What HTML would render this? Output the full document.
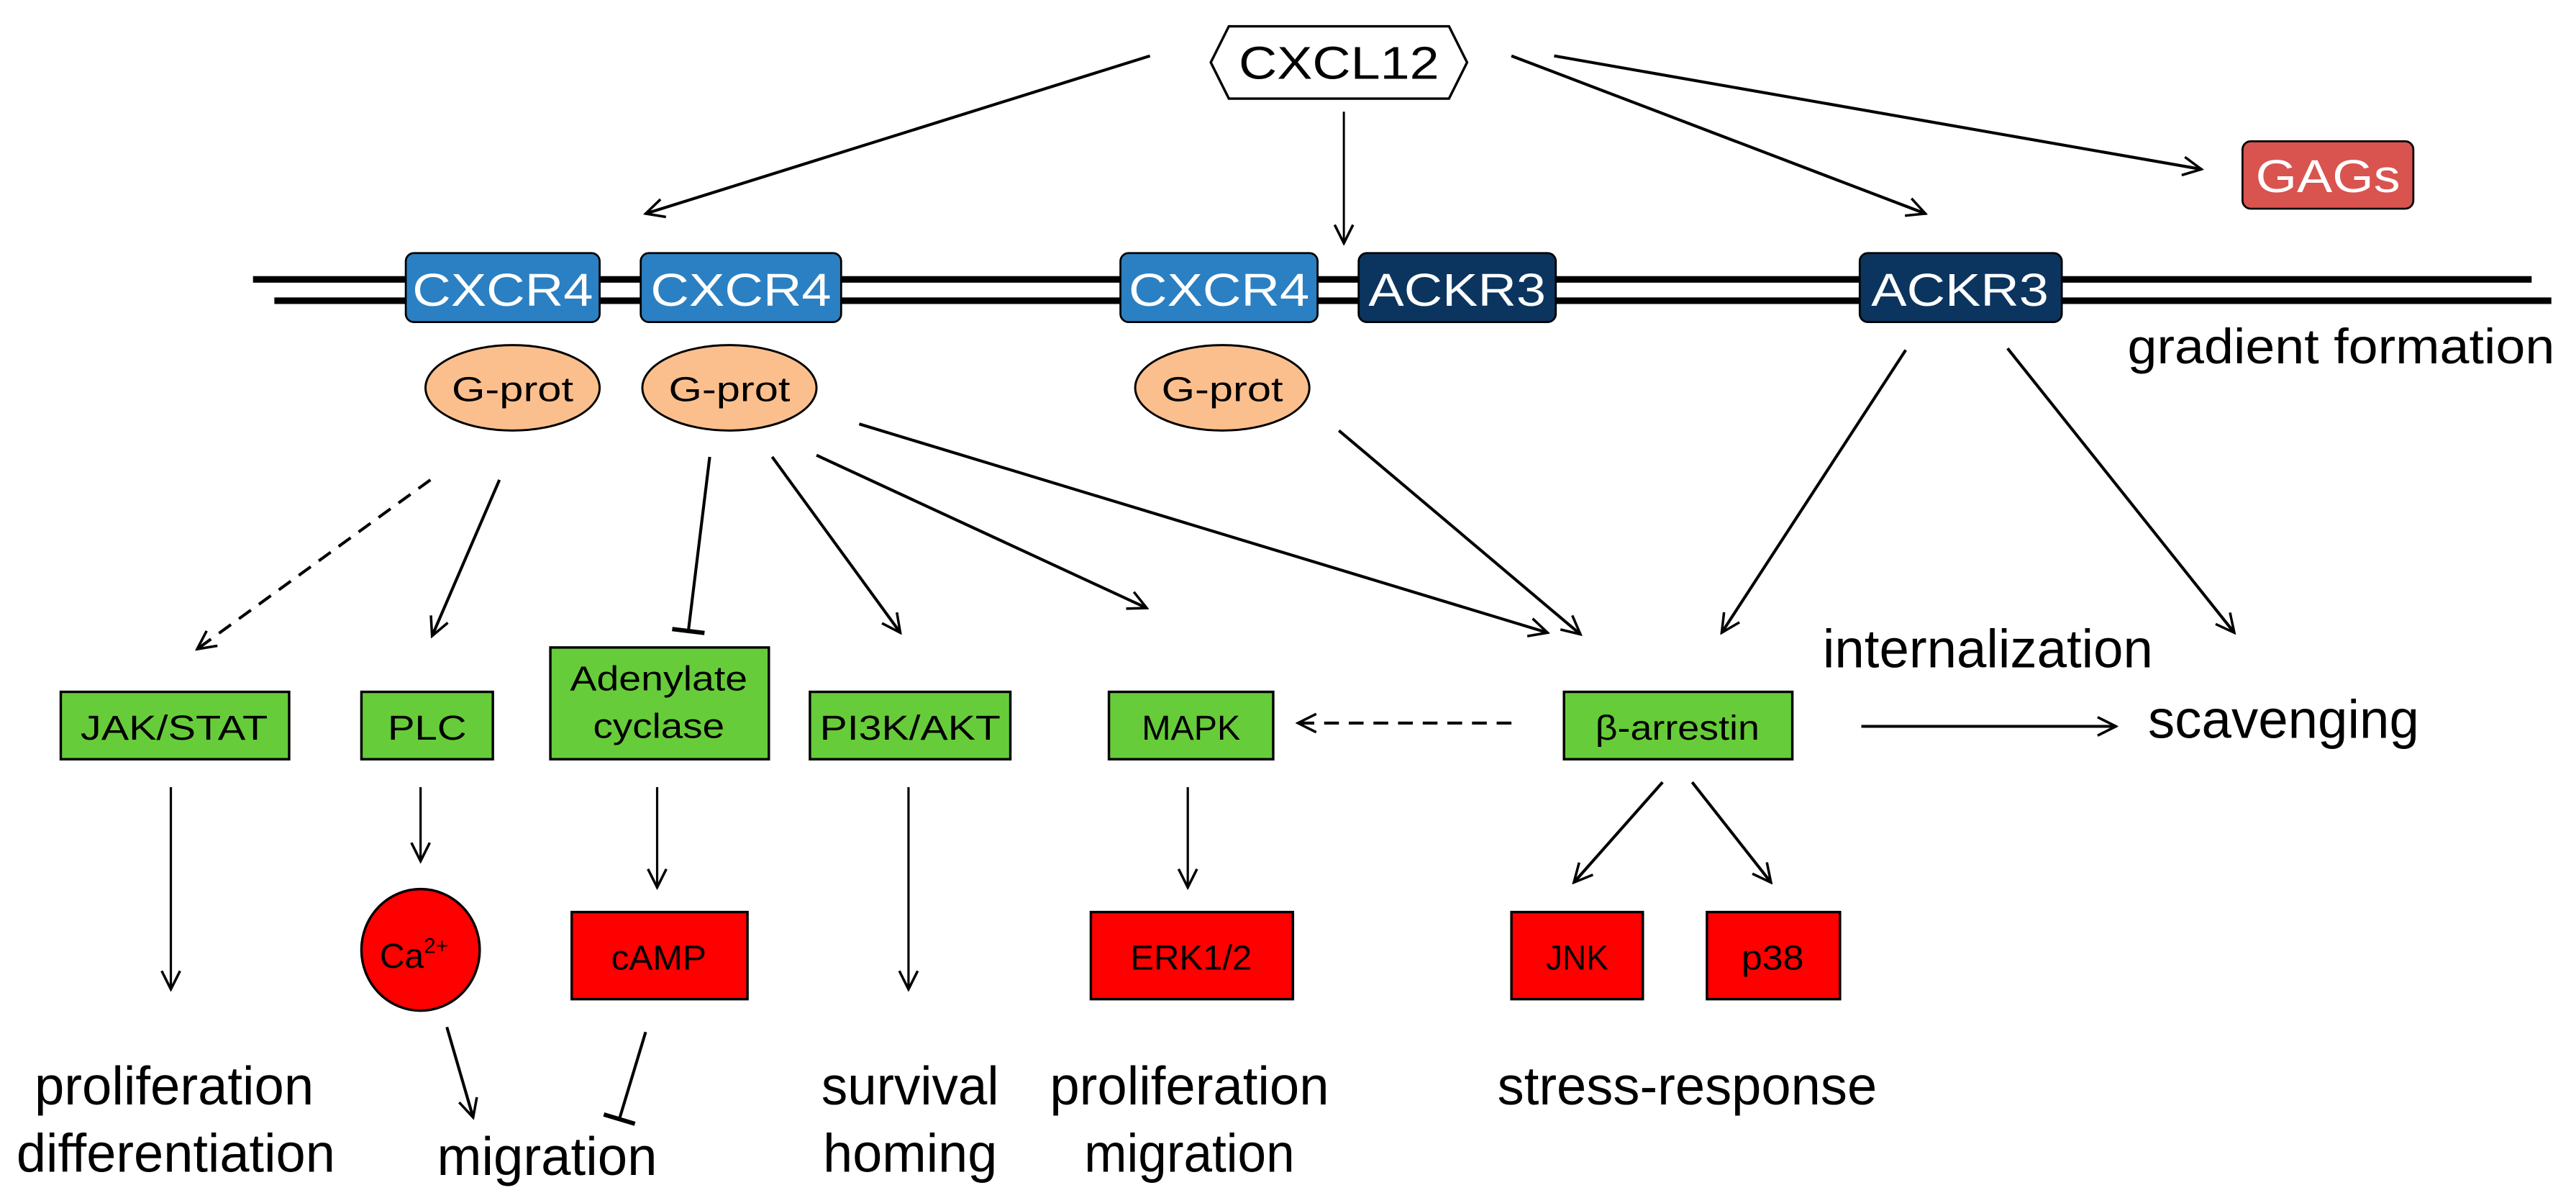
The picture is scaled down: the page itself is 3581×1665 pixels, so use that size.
<!DOCTYPE html>
<html><head><meta charset="utf-8"><style>
html,body{margin:0;padding:0;background:#fff;}
svg{display:block;}
text{font-family:"Liberation Sans",Arial,sans-serif;}
</style></head><body>
<svg width="3581" height="1665" viewBox="0 0 1568 729" preserveAspectRatio="none" xmlns="http://www.w3.org/2000/svg">
<defs>
<marker id="a" viewBox="0 0 20 20" refX="18" refY="10" markerWidth="14" markerHeight="14" markerUnits="userSpaceOnUse" orient="auto">
<path d="M2,2 L18,10 L2,18" fill="none" stroke="#000" stroke-width="2.2"/></marker>
<marker id="t" viewBox="0 0 20 20" refX="10" refY="10" markerWidth="22" markerHeight="22" markerUnits="userSpaceOnUse" orient="auto">
<path d="M10,1 L10,19" stroke="#000" stroke-width="2.4"/></marker>
</defs>
<line x1="154" y1="170" x2="1541" y2="170" stroke="#000" stroke-width="4"/>
<line x1="167" y1="183" x2="1553" y2="183" stroke="#000" stroke-width="4"/>
<polygon points="748,16 882,16 893,38 882,60 748,60 737,38" fill="#fff" stroke="#000" stroke-width="1.5"/>
<text x="815" y="48" font-size="28" text-anchor="middle" textLength="122" lengthAdjust="spacingAndGlyphs">CXCL12</text>
<g stroke="#000" stroke-width="1.2">
<rect x="247" y="154" width="118" height="42" rx="5" fill="#2a80c2"/>
<rect x="390" y="154" width="122" height="42" rx="5" fill="#2a80c2"/>
<rect x="682" y="154" width="120" height="42" rx="5" fill="#2a80c2"/>
<rect x="827" y="154" width="120" height="42" rx="5" fill="#0b355f"/>
<rect x="1132" y="154" width="123" height="42" rx="5" fill="#0b355f"/>
<rect x="1365" y="86" width="104" height="41" rx="5" fill="#d9534f"/>
</g>
<g fill="#fff" font-size="28" text-anchor="middle">
<text x="306" y="186" textLength="110" lengthAdjust="spacingAndGlyphs">CXCR4</text>
<text x="451" y="186" textLength="110" lengthAdjust="spacingAndGlyphs">CXCR4</text>
<text x="742" y="186" textLength="110" lengthAdjust="spacingAndGlyphs">CXCR4</text>
<text x="887" y="186" textLength="108" lengthAdjust="spacingAndGlyphs">ACKR3</text>
<text x="1193" y="186" textLength="108" lengthAdjust="spacingAndGlyphs">ACKR3</text>
<text x="1417" y="117" textLength="88" lengthAdjust="spacingAndGlyphs">GAGs</text>
</g>
<g fill="#fbbf8d" stroke="#000" stroke-width="1.3">
<ellipse cx="312" cy="236" rx="53" ry="26"/>
<ellipse cx="444" cy="236" rx="53" ry="26"/>
<ellipse cx="744" cy="236" rx="53" ry="26"/>
</g>
<g font-size="21" text-anchor="middle">
<text x="312" y="244" textLength="74" lengthAdjust="spacingAndGlyphs">G-prot</text>
<text x="444" y="244" textLength="74" lengthAdjust="spacingAndGlyphs">G-prot</text>
<text x="744" y="244" textLength="74" lengthAdjust="spacingAndGlyphs">G-prot</text>
</g>
<text x="1295" y="221" font-size="30" textLength="260" lengthAdjust="spacingAndGlyphs">gradient formation</text>
<g fill="#67cc3a" stroke="#000" stroke-width="1.5">
<rect x="37" y="421" width="139" height="41"/>
<rect x="220" y="421" width="80" height="41"/>
<rect x="335" y="394" width="133" height="68"/>
<rect x="493" y="421" width="122" height="41"/>
<rect x="675" y="421" width="100" height="41"/>
<rect x="952" y="421" width="139" height="41"/>
</g>
<g font-size="21" text-anchor="middle">
<text x="106" y="450" textLength="114" lengthAdjust="spacingAndGlyphs">JAK/STAT</text>
<text x="260" y="450" textLength="48" lengthAdjust="spacingAndGlyphs">PLC</text>
<text x="401" y="420" textLength="108" lengthAdjust="spacingAndGlyphs">Adenylate</text>
<text x="401" y="449" textLength="80" lengthAdjust="spacingAndGlyphs">cyclase</text>
<text x="554" y="450" textLength="110" lengthAdjust="spacingAndGlyphs">PI3K/AKT</text>
<text x="725" y="450" textLength="60" lengthAdjust="spacingAndGlyphs">MAPK</text>
<text x="1021" y="450" textLength="100" lengthAdjust="spacingAndGlyphs">β-arrestin</text>
</g>
<g fill="#ff0000" stroke="#000" stroke-width="1.5">
<ellipse cx="256" cy="578" rx="36" ry="37"/>
<rect x="348" y="555" width="107" height="53"/>
<rect x="664" y="555" width="123" height="53"/>
<rect x="920" y="555" width="80" height="53"/>
<rect x="1039" y="555" width="81" height="53"/>
</g>
<g font-size="21" text-anchor="middle">
<text x="252" y="589">Ca<tspan font-size="13" dy="-9">2+</tspan></text>
<text x="401" y="590" textLength="58" lengthAdjust="spacingAndGlyphs">cAMP</text>
<text x="725" y="590" textLength="74" lengthAdjust="spacingAndGlyphs">ERK1/2</text>
<text x="960" y="590" textLength="38" lengthAdjust="spacingAndGlyphs">JNK</text>
<text x="1079" y="590" textLength="38" lengthAdjust="spacingAndGlyphs">p38</text>
</g>
<g font-size="33" text-anchor="middle">
<text x="106" y="672" textLength="170" lengthAdjust="spacingAndGlyphs">proliferation</text>
<text x="107" y="713" textLength="194" lengthAdjust="spacingAndGlyphs">differentiation</text>
<text x="333" y="715" textLength="134" lengthAdjust="spacingAndGlyphs">migration</text>
<text x="554" y="672" textLength="108" lengthAdjust="spacingAndGlyphs">survival</text>
<text x="554" y="713" textLength="106" lengthAdjust="spacingAndGlyphs">homing</text>
<text x="724" y="672" textLength="170" lengthAdjust="spacingAndGlyphs">proliferation</text>
<text x="724" y="713" textLength="128" lengthAdjust="spacingAndGlyphs">migration</text>
<text x="1027" y="672" textLength="231" lengthAdjust="spacingAndGlyphs">stress-response</text>
<text x="1210" y="406" textLength="201" lengthAdjust="spacingAndGlyphs">internalization</text>
<text x="1390" y="449" textLength="165" lengthAdjust="spacingAndGlyphs">scavenging</text>
</g>
<g stroke="#000" stroke-width="1.8" fill="none">
<line x1="700" y1="34" x2="393" y2="130" marker-end="url(#a)"/>
<line x1="818" y1="68" x2="818" y2="148" marker-end="url(#a)" stroke-width="1.3"/>
<line x1="920" y1="34" x2="1172" y2="130" marker-end="url(#a)"/>
<line x1="946" y1="34" x2="1340" y2="103" marker-end="url(#a)"/>
<line x1="262" y1="292" x2="120" y2="395" marker-end="url(#a)" stroke-dasharray="9,6"/>
<line x1="304" y1="292" x2="263" y2="387" marker-end="url(#a)"/>
<line x1="432" y1="278" x2="419" y2="384" marker-end="url(#t)"/>
<line x1="470" y1="278" x2="548" y2="385" marker-end="url(#a)"/>
<line x1="497" y1="277" x2="698" y2="370" marker-end="url(#a)"/>
<line x1="523" y1="258" x2="942" y2="385" marker-end="url(#a)"/>
<line x1="815" y1="262" x2="962" y2="386" marker-end="url(#a)"/>
<line x1="1160" y1="213" x2="1048" y2="385" marker-end="url(#a)"/>
<line x1="1222" y1="212" x2="1360" y2="385" marker-end="url(#a)"/>
<line x1="920" y1="440" x2="790" y2="440" marker-end="url(#a)" stroke-dasharray="9,6"/>
<line x1="1133" y1="442" x2="1288" y2="442" marker-end="url(#a)"/>
<line x1="1012" y1="476" x2="958" y2="537" marker-end="url(#a)"/>
<line x1="1030" y1="476" x2="1078" y2="537" marker-end="url(#a)"/>
<line x1="104" y1="479" x2="104" y2="602" marker-end="url(#a)" stroke-width="1.4"/>
<line x1="256" y1="479" x2="256" y2="524" marker-end="url(#a)" stroke-width="1.4"/>
<line x1="400" y1="479" x2="400" y2="540" marker-end="url(#a)" stroke-width="1.4"/>
<line x1="553" y1="479" x2="553" y2="602" marker-end="url(#a)" stroke-width="1.4"/>
<line x1="723" y1="479" x2="723" y2="540" marker-end="url(#a)" stroke-width="1.4"/>
<line x1="272" y1="625" x2="288" y2="680" marker-end="url(#a)"/>
<line x1="393" y1="628" x2="377" y2="681" marker-end="url(#t)"/>
</g>
</svg>
</body></html>
